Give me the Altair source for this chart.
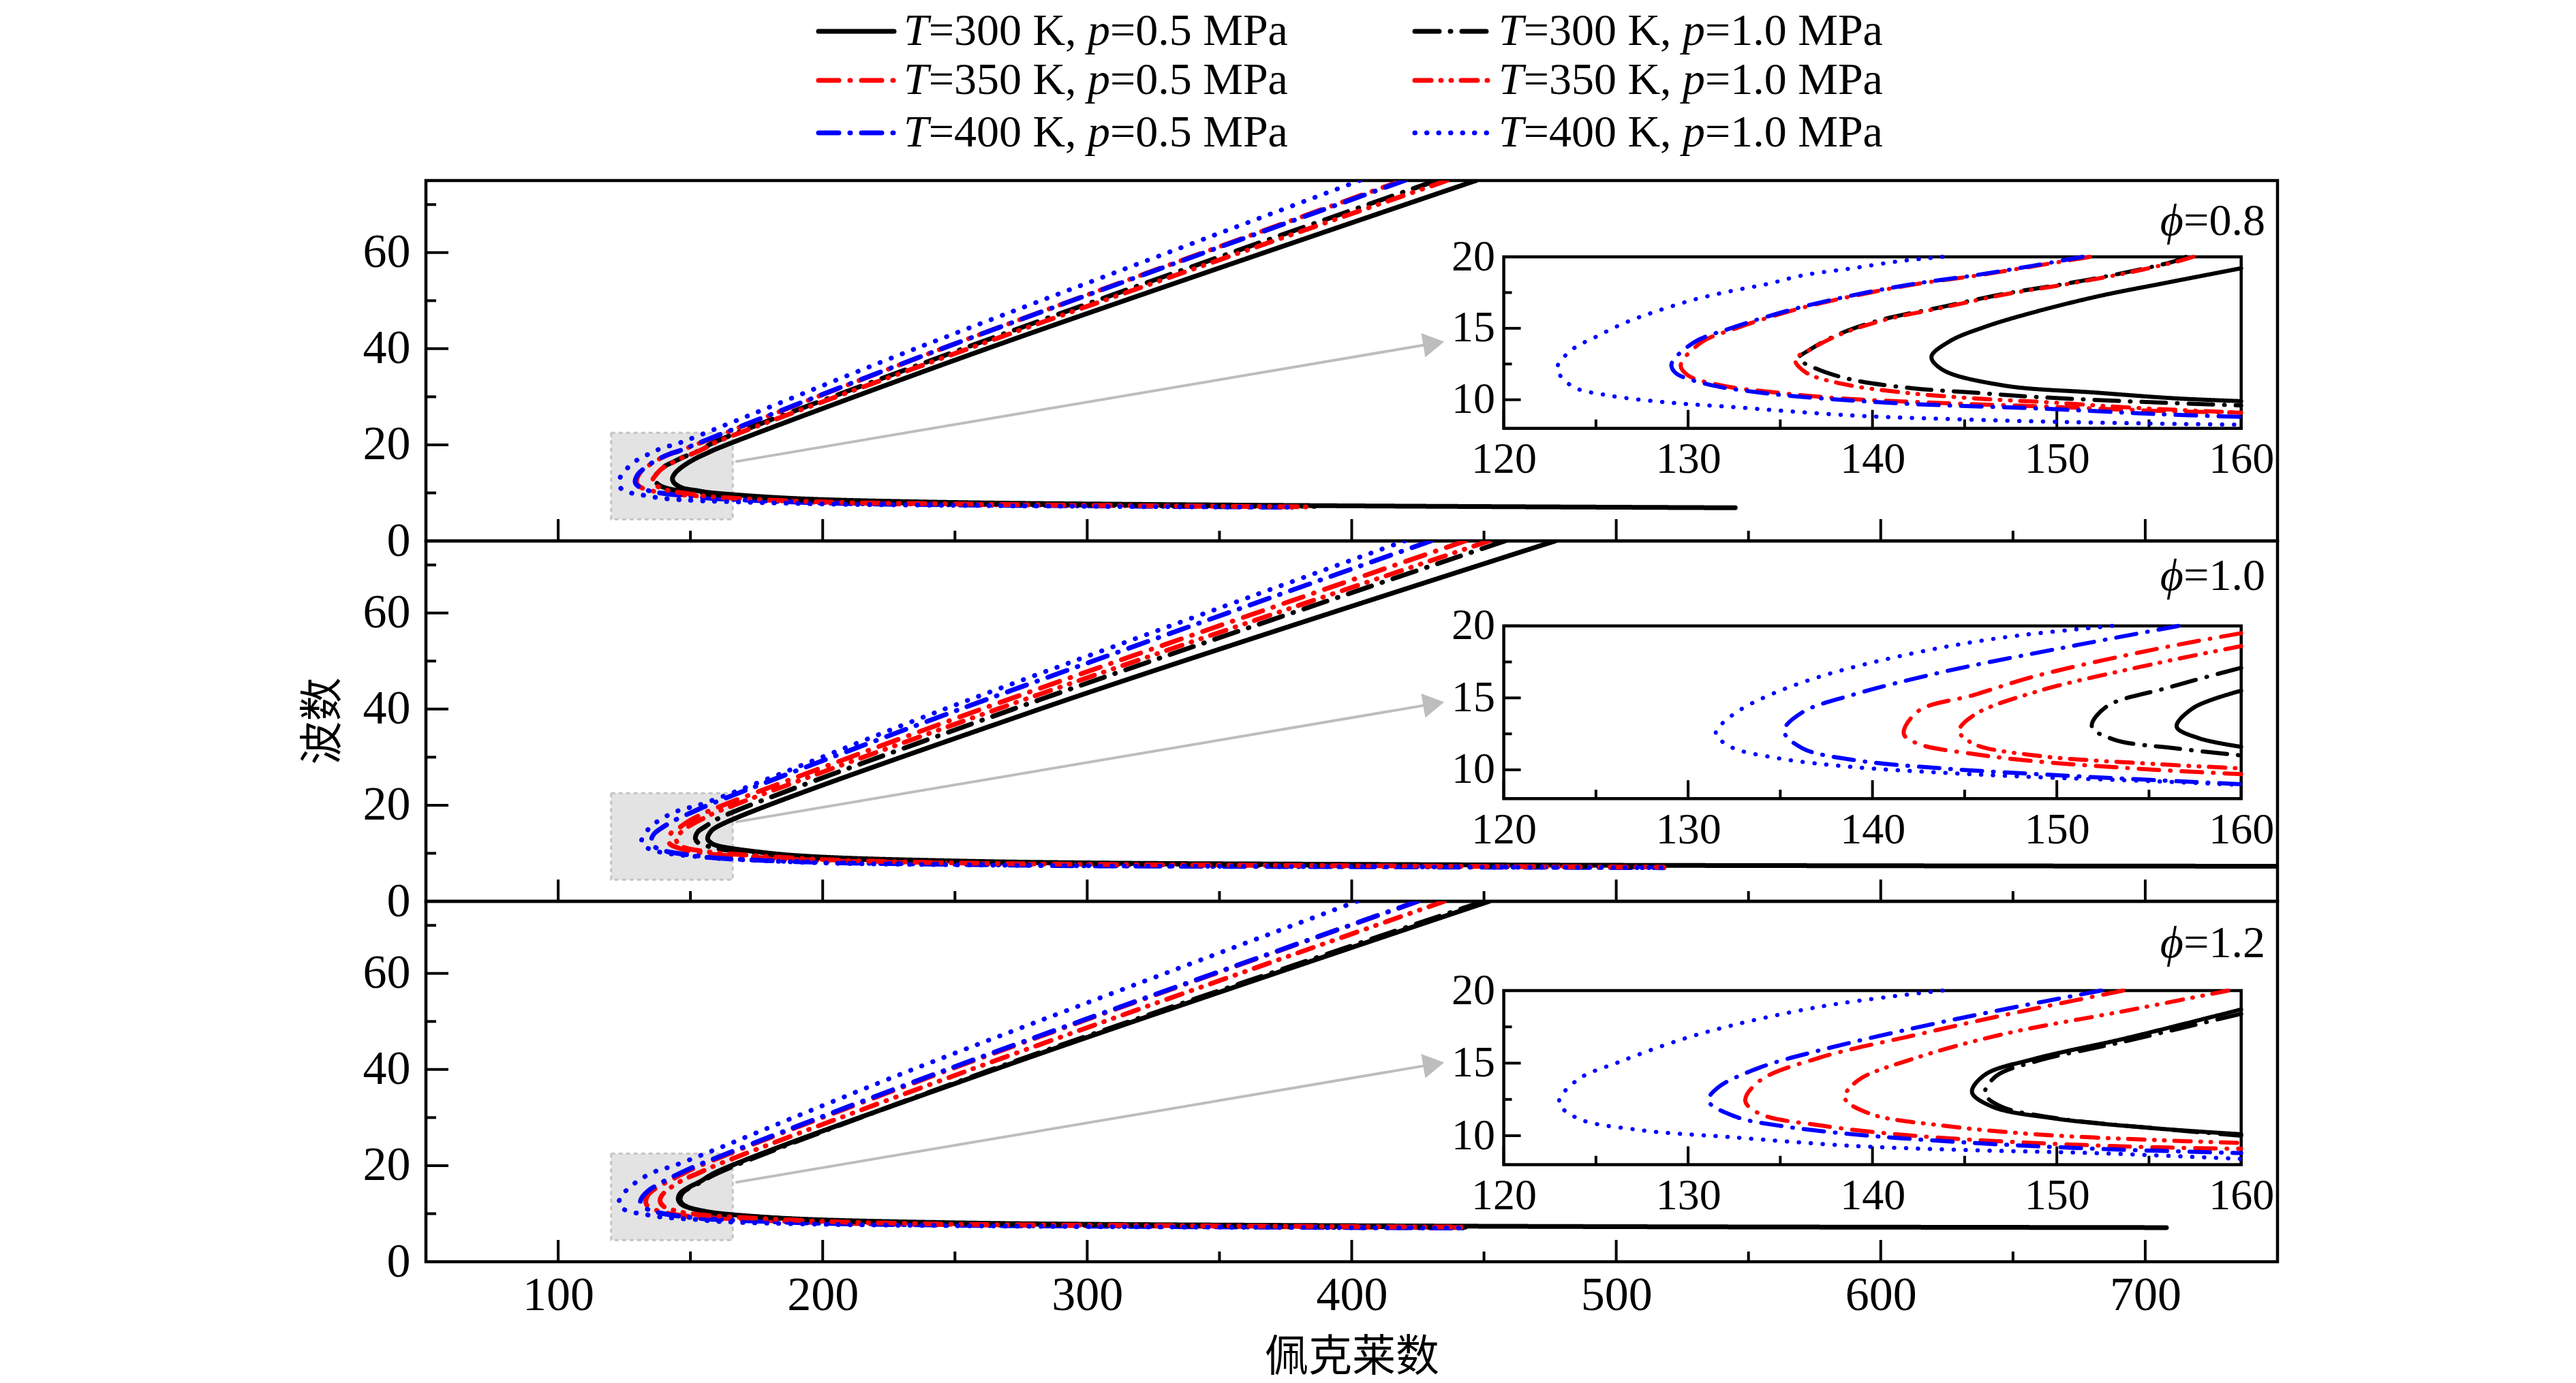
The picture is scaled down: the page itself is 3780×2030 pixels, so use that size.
import altair as alt
import pandas as pd

# ---------------- data ----------------
PANELS = ["0.8", "1.0", "1.2"]
SERIES = ["T=300 K, p=0.5 MPa", "T=350 K, p=0.5 MPa", "T=400 K, p=0.5 MPa",
          "T=300 K, p=1.0 MPa", "T=350 K, p=1.0 MPa", "T=400 K, p=1.0 MPa"]
T_VALUES = ["300", "350", "400", "300", "350", "400"]
P_VALUES = ["0.5", "0.5", "0.5", "1.0", "1.0", "1.0"]
COLORS = ["#000000", "#ff0000", "#0000ff", "#000000", "#ff0000", "#0000ff"]
DASHES = [[1, 0], [30, 16, 1, 16], [30, 16, 1, 16], [36, 16, 1, 16],
          [24, 14, 1, 14, 1, 14], [0.5, 17]]

X_TITLE = "佩克莱数"
Y_TITLE = "波数"

# phi = 0.8
PE_08_S1 = [447, 262, 160, 156.0, 152.1, 148.4, 146.1, 144.2, 143.2, 143.8, 147.1, 152.1, 156.4, 160, 180, 200, 250, 300, 400, 545]
WN_08_S1 = [75, 40, 19.2, 18.2, 17.2, 16.0, 15.1, 14.1, 13.0, 12.1, 11.0, 10.5, 10.1, 9.9, 9.1, 8.6, 8.0, 7.7, 7.3, 6.9]
PE_08_S2 = [419, 245, 151.8, 149.0, 145.7, 142.4, 139.1, 135.8, 132.6, 130.7, 129.6, 130.0, 131.8, 134.8, 138.2, 143.2, 149.8, 156.0, 160, 200, 250, 300, 382]
WN_08_S2 = [75, 40, 20, 19.4, 18.7, 18.1, 17.3, 16.3, 15.0, 14.0, 12.4, 11.7, 11.0, 10.5, 10.1, 9.8, 9.5, 9.2, 9.1, 8.0, 7.6, 7.4, 7.1]
PE_08_S3 = [420, 245, 151.4, 148.8, 145.5, 142.2, 138.9, 135.6, 132.3, 130.3, 129.1, 129.3, 131.0, 133.9, 137.2, 142.2, 148.8, 155.4, 160, 200, 250, 300, 380]
WN_08_S3 = [75, 40, 20, 19.4, 18.7, 18.1, 17.3, 16.3, 15.0, 14.0, 12.5, 11.9, 11.1, 10.5, 10.1, 9.7, 9.4, 9.0, 8.8, 7.9, 7.5, 7.3, 7.0]
PE_08_S4 = [432, 253, 157.0, 156.4, 153.7, 150.4, 147.1, 143.8, 140.5, 138.2, 136.6, 136.0, 136.9, 138.9, 142.2, 145.5, 148.8, 153.7, 160, 200, 250, 300, 386]
WN_08_S4 = [75, 40, 20, 19.7, 18.9, 18.1, 17.4, 16.5, 15.6, 14.6, 13.5, 12.9, 12.2, 11.4, 10.8, 10.5, 10.2, 9.9, 9.6, 8.3, 7.8, 7.5, 7.2]
PE_08_S5 = [436, 255, 157.4, 156.6, 153.9, 150.6, 147.3, 144.0, 140.7, 138.3, 136.6, 135.8, 136.4, 138.4, 141.7, 145.5, 149.8, 154.7, 160, 200, 250, 300, 384]
WN_08_S5 = [75, 40, 20, 19.7, 18.9, 18.1, 17.4, 16.5, 15.6, 14.6, 13.5, 12.8, 11.9, 11.1, 10.5, 10.1, 9.8, 9.4, 9.1, 8.1, 7.7, 7.4, 7.1]
PE_08_S6 = [403, 235, 143.8, 141.5, 138.9, 136.2, 134.3, 132.3, 130.3, 128.3, 126.6, 125.0, 123.7, 122.9, 123.7, 125.7, 129.0, 132.3, 138.9, 145.5, 152.1, 160, 200, 250, 300, 378]
WN_08_S6 = [75, 40, 20, 19.7, 19.2, 18.7, 18.1, 17.6, 17.0, 16.2, 15.4, 14.4, 13.5, 12.2, 10.95, 10.3, 9.8, 9.5, 8.9, 8.6, 8.4, 8.25, 7.7, 7.4, 7.2, 7.0]

# phi = 1.0
PE_10_S1 = [477, 282, 160, 157.4, 156.5, 157.7, 160, 180, 200, 250, 300, 400, 500, 750]
WN_10_S1 = [75, 40, 15.5, 14.3, 13.0, 12.2, 11.6, 10.0, 9.2, 8.4, 8.0, 7.7, 7.5, 7.3]
PE_10_S2 = [443, 260, 160, 155.4, 148.8, 145.5, 142.5, 141.7, 142.5, 145.5, 148.8, 155.4, 160, 200, 250, 300, 400, 518]
WN_10_S2 = [75, 40, 19.5, 18.4, 16.5, 15.2, 14.1, 12.5, 11.8, 11.1, 10.6, 10.0, 9.7, 8.5, 7.9, 7.6, 7.3, 7.1]
PE_10_S3 = [430, 252, 156.6, 150.4, 143.8, 138.9, 136.2, 135.2, 136.2, 138.9, 143.8, 150.4, 160, 200, 250, 300, 400, 518]
WN_10_S3 = [75, 40, 20, 18.5, 16.8, 15.2, 14.0, 12.7, 11.5, 10.7, 10.1, 9.6, 9.0, 8.1, 7.7, 7.4, 7.2, 7.0]
PE_10_S4 = [458, 272, 160, 156.0, 152.7, 151.9, 153.1, 156.4, 160, 180, 200, 250, 300, 400, 518]
WN_10_S4 = [75, 40, 17.1, 15.7, 14.4, 13.0, 12.1, 11.5, 11.0, 9.8, 9.0, 8.3, 7.9, 7.5, 7.2]
PE_10_S5 = [452, 266, 160, 155.4, 148.8, 145.5, 144.7, 145.5, 148.8, 155.4, 160, 200, 250, 300, 400, 518]
WN_10_S5 = [75, 40, 18.6, 17.4, 15.4, 13.8, 12.7, 11.8, 11.0, 10.4, 10.1, 8.7, 8.0, 7.7, 7.4, 7.1]
PE_10_S6 = [420, 246, 153.0, 147.1, 142.2, 137.2, 133.9, 132.3, 131.5, 132.3, 134.9, 138.9, 143.8, 148.8, 155.4, 160, 200, 250, 300, 400, 518]
WN_10_S6 = [75, 40, 20, 19.2, 18.1, 16.5, 14.9, 13.7, 12.55, 11.6, 10.8, 10.2, 9.8, 9.5, 9.2, 8.95, 8.0, 7.6, 7.4, 7.2, 7.0]

# phi = 1.2
PE_12_S1 = [452, 265, 160, 153.7, 148.8, 146.1, 145.4, 146.5, 149.8, 155.4, 160, 180, 200, 250, 300, 400, 500, 708]
WN_12_S1 = [75, 40, 18.7, 16.7, 15.3, 14.2, 13.0, 12.0, 11.2, 10.5, 10.1, 9.2, 8.7, 8.1, 7.8, 7.5, 7.3, 7.1]
PE_12_S2 = [425, 248, 153.6, 147.1, 142.2, 137.2, 133.9, 133.1, 133.9, 137.2, 142.2, 148.8, 155.4, 160, 200, 250, 300, 443]
WN_12_S2 = [75, 40, 20, 18.3, 16.9, 15.4, 13.8, 12.4, 11.5, 10.7, 10.0, 9.5, 9.2, 9.1, 8.1, 7.7, 7.5, 7.1]
PE_12_S3 = [425, 247, 152.4, 147.1, 142.2, 137.2, 133.9, 131.6, 131.1, 132.6, 134.9, 138.9, 145.5, 152.1, 160, 200, 250, 300, 443]
WN_12_S3 = [75, 40, 20, 18.7, 17.4, 15.9, 14.7, 13.3, 12.4, 11.3, 10.7, 10.1, 9.5, 9.1, 8.8, 8.0, 7.6, 7.4, 7.0]
PE_12_S4 = [450, 264, 160, 153.7, 148.8, 146.7, 146.1, 147.0, 150.0, 155.4, 160, 200, 250, 300, 443]
WN_12_S4 = [75, 40, 18.4, 16.5, 15.1, 14.1, 12.9, 12.0, 11.2, 10.5, 10.0, 8.6, 8.0, 7.7, 7.2]
PE_12_S5 = [435, 256, 159.3, 153.7, 147.1, 142.2, 139.2, 138.5, 139.9, 143.8, 148.8, 155.4, 160, 200, 250, 300, 443]
WN_12_S5 = [75, 40, 20, 18.6, 17.0, 15.3, 13.8, 12.6, 11.5, 10.7, 10.1, 9.7, 9.5, 8.4, 7.8, 7.6, 7.2]
PE_12_S6 = [402, 234, 143.8, 137.2, 130.6, 126.3, 124.0, 123.0, 124.0, 127.3, 132.3, 138.9, 145.5, 152.1, 160, 200, 250, 300, 443]
WN_12_S6 = [75, 40, 20, 18.9, 17.0, 15.1, 13.85, 12.3, 11.2, 10.4, 9.9, 9.3, 9.0, 8.8, 8.4, 7.8, 7.5, 7.3, 7.0]

CURVES = [
    [(PE_08_S1, WN_08_S1), (PE_08_S2, WN_08_S2), (PE_08_S3, WN_08_S3),
     (PE_08_S4, WN_08_S4), (PE_08_S5, WN_08_S5), (PE_08_S6, WN_08_S6)],
    [(PE_10_S1, WN_10_S1), (PE_10_S2, WN_10_S2), (PE_10_S3, WN_10_S3),
     (PE_10_S4, WN_10_S4), (PE_10_S5, WN_10_S5), (PE_10_S6, WN_10_S6)],
    [(PE_12_S1, WN_12_S1), (PE_12_S2, WN_12_S2), (PE_12_S3, WN_12_S3),
     (PE_12_S4, WN_12_S4), (PE_12_S5, WN_12_S5), (PE_12_S6, WN_12_S6)],
]

X_LABELS = [100, 200, 300, 400, 500, 600, 700]
X_MINOR = [150, 250, 350, 450, 550, 650]
Y_LABELS = [0, 20, 40, 60]
Y_MINOR = [10, 30, 50, 70]
IX_LABELS = [120, 130, 140, 150, 160]
IX_MINOR = [125, 135, 145, 155]
IY_LABELS = [10, 15, 20]
IY_MINOR = [12.5, 17.5]

BOX_PE = [120, 166]
BOX_WN = [4.5, 22.5]
ARROW_PE = [167, 432]
ARROW_WN = [16.5, 41.2]
HEAD_PE = [431]
HEAD_WN = [41.1]

# ---------------- layout / style ----------------
W, H, HL = 2717, 529, 257
X_DOMAIN = [50, 750]
Y_DOMAIN = [0, 75]
IX_DOMAIN = [120, 160]
IY_DOMAIN = [8, 20]
INSET_LEFT, INSET_RIGHT = 1581.6, 2663.7
INSET_TOP = [112.0, 124.8, 131.0]
INSET_BOTTOM = [363.7, 378.2, 386.6]
PHI_Y = [80, 72, 82]
SERIF = "Liberation Serif"
CJK = "Noto Sans CJK SC"
FS_MAIN = 70
FS_INSET = 64
FS_LEG = 66

rows = []
for k, ph in enumerate(PANELS):
    for s, (pe, wn) in enumerate(CURVES[k]):
        for i, (a, b) in enumerate(zip(pe, wn)):
            rows.append({"panel": ph, "series": SERIES[s], "i": i, "pe": a, "wave": b})
curves_df = pd.DataFrame(rows)

color_scale = alt.Scale(domain=SERIES, range=COLORS)
dash_scale = alt.Scale(domain=SERIES, range=DASHES)


def panel(k):
    ph = PANELS[k]
    d = curves_df[curves_df["panel"] == ph]
    xs = alt.Scale(domain=X_DOMAIN, nice=False, zero=False)
    ys = alt.Scale(domain=Y_DOMAIN, nice=False, zero=False)
    if k == 2:
        xa = alt.Axis(values=X_LABELS, labelFont=SERIF, labelFontSize=FS_MAIN, labelColor="black",
                      ticks=False, tickSize=0, domain=False, grid=False, labelPadding=15,
                      labelFlush=False, labelOverlap=False,
                      titleFont=CJK, titleFontSize=64, titleFontWeight="normal",
                      titleColor="black", titlePadding=24)
        xt = X_TITLE
    else:
        xa = None
        xt = None
    ya = alt.Axis(values=Y_LABELS, labelFont=SERIF, labelFontSize=FS_MAIN, labelColor="black",
                  ticks=False, tickSize=0, domain=False, grid=False, labelPadding=23,
                  labelOverlap=False)

    def X(f):
        return alt.X(f, scale=xs, axis=xa, title=xt)

    def Y(f):
        return alt.Y(f, scale=ys, axis=ya, title=None)

    box_df = pd.DataFrame({"x0": [BOX_PE[0]], "x1": [BOX_PE[1]], "y0": [BOX_WN[0]], "y1": [BOX_WN[1]]})
    box = alt.Chart(box_df).mark_rect(fill="#e3e3e3", stroke="#c4c4c4", strokeDash=[6, 5],
                                      strokeWidth=3).encode(
        x=X("x0:Q"), x2="x1:Q", y=Y("y0:Q"), y2="y1:Q")
    arrow_df = pd.DataFrame({"x0": [ARROW_PE[0]], "x1": [ARROW_PE[1]],
                             "y0": [ARROW_WN[0]], "y1": [ARROW_WN[1]]})
    arrow = alt.Chart(arrow_df).mark_rule(color="#bdbdbd", strokeWidth=4).encode(
        x=X("x0:Q"), x2="x1:Q", y=Y("y0:Q"), y2="y1:Q")
    head = alt.Chart(pd.DataFrame({"x": HEAD_PE, "y": HEAD_WN})).mark_point(
        shape="triangle-right", filled=True, size=1300, angle=350.4, color="#bdbdbd", opacity=1
    ).encode(x=X("x:Q"), y=Y("y:Q"))

    xt_major = alt.Chart(pd.DataFrame({"v": X_LABELS})).mark_rule(color="black", strokeWidth=4).encode(
        x=X("v:Q"), y=alt.value(H), y2=alt.value(H - 32))
    xt_minor = alt.Chart(pd.DataFrame({"v": X_MINOR})).mark_rule(color="black", strokeWidth=4).encode(
        x=X("v:Q"), y=alt.value(H), y2=alt.value(H - 15))
    yt_major = alt.Chart(pd.DataFrame({"v": Y_LABELS})).mark_rule(color="black", strokeWidth=4).encode(
        y=Y("v:Q"), x=alt.value(0), x2=alt.value(33))
    yt_minor = alt.Chart(pd.DataFrame({"v": Y_MINOR})).mark_rule(color="black", strokeWidth=4).encode(
        y=Y("v:Q"), x=alt.value(0), x2=alt.value(15))

    lines = alt.Chart(d).mark_line(strokeWidth=7, strokeCap="round", interpolate="catmull-rom",
                                   clip=True).encode(
        x=X("pe:Q"), y=Y("wave:Q"),
        color=alt.Color("series:N", scale=color_scale, legend=None),
        strokeDash=alt.StrokeDash("series:N", scale=dash_scale, legend=None),
        order="i:Q")

    phi_sym = alt.Chart(pd.DataFrame({"t": ["ϕ"]})).mark_text(
        font=SERIF, fontStyle="italic", fontSize=FS_LEG, align="right", baseline="alphabetic",
        color="black").encode(text="t:N", x=alt.value(W - 18 - 120), y=alt.value(PHI_Y[k]))
    phi_val = alt.Chart(pd.DataFrame({"t": ["=" + ph]})).mark_text(
        font=SERIF, fontSize=FS_LEG, align="right", baseline="alphabetic",
        color="black").encode(text="t:N", x=alt.value(W - 18), y=alt.value(PHI_Y[k]))

    main_layers = [box, arrow, head, xt_major, xt_minor, yt_major, yt_minor, lines, phi_sym, phi_val]
    if k == 1:
        ytitle = alt.Chart(pd.DataFrame({"t": [Y_TITLE]})).mark_text(
            font=CJK, fontSize=64, angle=270, align="center", baseline="middle", color="black"
        ).encode(text="t:N", x=alt.value(-150), y=alt.value(H / 2))
        main_layers.append(ytitle)

    # inset
    xl, xr = INSET_LEFT, INSET_RIGHT
    yt, yb = INSET_TOP[k], INSET_BOTTOM[k]
    ixs = alt.Scale(domain=IX_DOMAIN, range=[xl, xr], nice=False, zero=False)
    iys = alt.Scale(domain=IY_DOMAIN, range=[yb, yt], nice=False, zero=False)
    ixa = alt.Axis(orient="bottom", offset=yb - H, values=IX_LABELS, labelFont=SERIF,
                   labelFontSize=FS_INSET, labelColor="black", labelPadding=14, ticks=False,
                   tickSize=0, domain=False, grid=False, labelFlush=False, labelOverlap=False)
    iya = alt.Axis(orient="left", offset=-xl, values=IY_LABELS, labelFont=SERIF,
                   labelFontSize=FS_INSET, labelColor="black", labelPadding=13, ticks=False,
                   tickSize=0, domain=False, grid=False, labelOverlap=False)

    def IX(f):
        return alt.X(f, scale=ixs, axis=ixa, title=None)

    def IY(f):
        return alt.Y(f, scale=iys, axis=iya, title=None)

    frame_df = pd.DataFrame({"x0": [IX_DOMAIN[0]], "x1": [IX_DOMAIN[1]],
                             "y0": [IY_DOMAIN[0]], "y1": [IY_DOMAIN[1]]})
    frame = alt.Chart(frame_df).mark_rect(fill="white", stroke="black", strokeWidth=4.5).encode(
        x=IX("x0:Q"), x2="x1:Q", y=IY("y0:Q"), y2="y1:Q")
    ixt_major = alt.Chart(pd.DataFrame({"v": IX_LABELS})).mark_rule(color="black", strokeWidth=4).encode(
        x=IX("v:Q"), y=alt.value(yb), y2=alt.value(yb - 27))
    ixt_minor = alt.Chart(pd.DataFrame({"v": IX_MINOR})).mark_rule(color="black", strokeWidth=4).encode(
        x=IX("v:Q"), y=alt.value(yb), y2=alt.value(yb - 13))
    iyt_major = alt.Chart(pd.DataFrame({"v": IY_LABELS})).mark_rule(color="black", strokeWidth=4).encode(
        y=IY("v:Q"), x=alt.value(xl), x2=alt.value(xl + 25))
    iyt_minor = alt.Chart(pd.DataFrame({"v": IY_MINOR})).mark_rule(color="black", strokeWidth=4).encode(
        y=IY("v:Q"), x=alt.value(xl), x2=alt.value(xl + 12))
    ilines = alt.Chart(d).transform_filter(
        "datum.pe >= 119.99 && datum.pe <= 160.01 && datum.wave >= 7.99 && datum.wave <= 20.01"
    ).mark_line(strokeWidth=6, strokeCap="round", interpolate="catmull-rom").encode(
        x=IX("pe:Q"), y=IY("wave:Q"),
        color=alt.Color("series:N", scale=color_scale, legend=None),
        strokeDash=alt.StrokeDash("series:N", scale=dash_scale, legend=None),
        order="i:Q")
    inset_layers = [frame, ixt_major, ixt_minor, iyt_major, iyt_minor, ilines]

    return alt.layer(alt.layer(*main_layers), alt.layer(*inset_layers)).resolve_scale(
        x="independent", y="independent"
    ).properties(width=W, height=H, view=alt.ViewBackground(stroke="black", strokeWidth=4.5))


# ---------------- legend ----------------
LEG_SYM_X0 = [576, 1451]
LEG_SYM_X1 = [687, 1559]
LEG_TEXT_X = [701, 1574]
LEG_ROW_Y = [38, 110, 187]
leg_rows = []
for s, name in enumerate(SERIES):
    col = 0 if P_VALUES[s] == "0.5" else 1
    row = s % 3
    tx = LEG_TEXT_X[col]
    leg_rows.append({"series": name, "x0": LEG_SYM_X0[col], "x1": LEG_SYM_X1[col], "y": LEG_ROW_Y[row],
                     "xa": tx, "xb": tx + 36.7, "xc": tx + 270.1, "xd": tx + 303.0,
                     "ta": "T", "tb": "=" + T_VALUES[s] + " K,", "tc": "p",
                     "td": "=" + P_VALUES[s] + " MPa"})
leg_df = pd.DataFrame(leg_rows)
leg_base = alt.Chart(leg_df)
leg_lines = leg_base.mark_rule(strokeWidth=7, strokeCap="round").encode(
    x=alt.X("x0:Q", scale=None, axis=None), x2="x1:Q",
    y=alt.Y("y:Q", scale=None, axis=None),
    color=alt.Color("series:N", scale=color_scale, legend=None),
    strokeDash=alt.StrokeDash("series:N", scale=dash_scale, legend=None))


def leg_text(xf, tf, italic):
    kw = dict(font=SERIF, fontSize=FS_LEG, align="left", baseline="middle", color="black")
    if italic:
        kw["fontStyle"] = "italic"
    return leg_base.mark_text(**kw).encode(
        x=alt.X(xf + ":Q", scale=None, axis=None), y=alt.Y("y:Q", scale=None, axis=None),
        text=tf + ":N")


legend = alt.layer(leg_lines, leg_text("xa", "ta", True), leg_text("xb", "tb", False),
                   leg_text("xc", "tc", True), leg_text("xd", "td", False)).properties(
    width=W, height=HL)

chart = alt.vconcat(legend, panel(0), panel(1), panel(2), spacing=0, bounds="flush").properties(
    padding={"left": 432, "top": 0, "right": 20, "bottom": 5}
).configure(background="white").configure_view(strokeWidth=0)

chart.save("out.html", embed_options={"renderer": "svg", "actions": False})
